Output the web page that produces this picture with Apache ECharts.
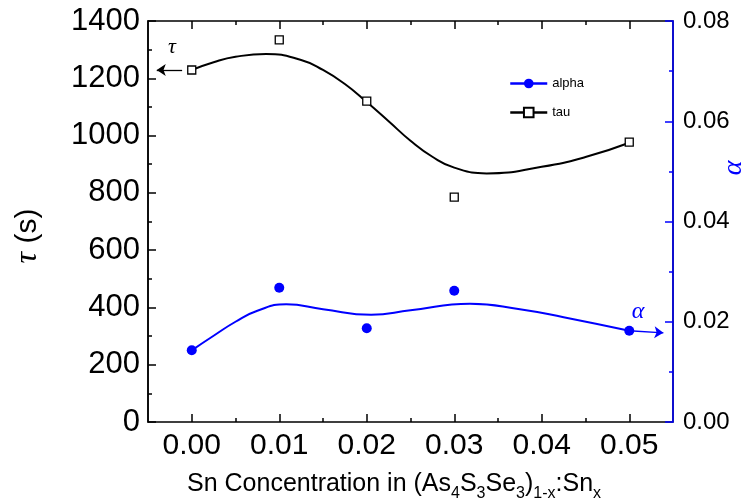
<!DOCTYPE html>
<html>
<head>
<meta charset="utf-8">
<script src="https://cdn.jsdelivr.net/npm/echarts@6/dist/echarts.min.js"></script>
<style>
  html, body { margin: 0; padding: 0; background: #fff; }
  #chart { width: 743px; height: 500px; }
</style>
</head>
<body>
<div id="chart"></div>
<script>
// measured points
const snX = [0.00, 0.01, 0.02, 0.03, 0.05]
const tauPts = [1229, 1334, 1120, 785, 977]
const alphaPts = [0.0143, 0.0268, 0.0187, 0.0262, 0.0182]

// fitted curves (extrema included)
const tauFitX = [0, 0.0025, 0.005, 0.0085, 0.0125, 0.015, 0.0175, 0.02, 0.0225, 0.025, 0.0275, 0.03, 0.0337, 0.04, 0.045, 0.05]
const tauFit = [1229, 1256, 1275, 1285, 1264, 1229, 1180, 1117, 1050, 982, 926, 888, 868, 891, 925, 975]
const alphaFitX = [0, 0.0025, 0.005, 0.0075, 0.0108, 0.015, 0.0205, 0.025, 0.0318, 0.0375, 0.0425, 0.05]
const alphaFit = [0.0143, 0.0172, 0.0200, 0.0222, 0.0235, 0.0225, 0.0214, 0.0223, 0.0236, 0.0225, 0.0209, 0.0182]

// arrow annotations [from, to]
const tauArrow = [[-0.0011, 1229], [-0.0040, 1229]]
const alphaArrow = [[0.05, 0.0182], [0.0539, 0.0178]]

const xTickLabels = ['0.00', '0.01', '0.02', '0.03', '0.04', '0.05']

const BLUE = '#0000ff'
const SANS = 'Liberation Sans, Arial, sans-serif'
const SERIF = 'Liberation Serif, Times New Roman, serif'

const zip = (xs, ys) => xs.map((x, i) => [x, ys[i]])

const chart = echarts.init(document.getElementById('chart'))

const tickCommon = {
  axisTick: { show: true, inside: true, length: 8, lineStyle: { color: '#000', width: 1.5 } },
  minorTick: { show: true, splitNumber: 2, length: 4, lineStyle: { color: '#000', width: 1.5 } },
  splitLine: { show: false },
  minorSplitLine: { show: false },
}

const option = {
  animation: false,
  backgroundColor: '#fff',
  grid: [
    { left: 148, right: 70, top: 21, bottom: 78, show: true, borderColor: '#000', borderWidth: 1.5 },
    // tick/label grid covering exactly 0.00 .. 0.05
    { left: 191.75, right: 113.75, top: 21, bottom: 78 },
  ],
  legend: {
    orient: 'vertical',
    left: 504,
    top: 72,
    itemWidth: 37,
    itemHeight: 12,
    itemGap: 16,
    textStyle: { fontFamily: SANS, fontSize: 13, color: '#000' },
    data: [
      { name: 'alpha', lineStyle: { width: 2.5, opacity: 1, color: BLUE } },
      { name: 'tau', lineStyle: { width: 2.5, opacity: 1, color: '#000' } },
    ],
  },
  xAxis: [
    {
      type: 'value', gridIndex: 0, min: -0.005, max: 0.055,
      axisLine: { show: false }, axisTick: { show: false }, axisLabel: { show: false },
      splitLine: { show: false },
    },
    {
      type: 'value', gridIndex: 1, position: 'bottom', min: 0, max: 0.05, interval: 0.01,
      axisLine: { show: false, onZero: false },
      ...tickCommon,
      axisLabel: {
        margin: 9,
        fontFamily: SANS, fontSize: 30, color: '#000',
        formatter: (v) => xTickLabels[Math.round(v * 100)] ?? '',
      },
    },
    {
      type: 'value', gridIndex: 1, position: 'top', min: 0, max: 0.05, interval: 0.01,
      axisLine: { show: false, onZero: false },
      ...tickCommon,
      axisLabel: { show: false },
    },
  ],
  yAxis: [
    {
      type: 'value', gridIndex: 0, position: 'left', min: 0, max: 1400, interval: 200,
      axisLine: { show: true, onZero: false, lineStyle: { color: '#000', width: 1.5 } },
      ...tickCommon,
      axisLabel: { margin: 8, fontFamily: SANS, fontSize: 31, color: '#000', formatter: (v) => String(v) },
    },
    {
      type: 'value', gridIndex: 0, position: 'right', min: 0, max: 0.08, interval: 0.02,
      axisLine: { show: true, onZero: false, lineStyle: { color: BLUE, width: 1.5 } },
      axisTick: { show: true, inside: true, length: 8, lineStyle: { color: BLUE, width: 1.5 } },
      minorTick: { show: true, splitNumber: 2, length: 4, lineStyle: { color: BLUE, width: 1.5 } },
      splitLine: { show: false },
      axisLabel: {
        margin: 10, fontFamily: SANS, fontSize: 24, color: '#000',
        formatter: (v) => v.toFixed(2),
      },
    },
    { type: 'value', gridIndex: 1, show: false, min: 0, max: 1, axisLine: { onZero: false } },
  ],
  series: [
    {
      name: 'tauFit', type: 'line', xAxisIndex: 0, yAxisIndex: 0,
      data: zip(tauFitX, tauFit), smooth: 0.5, symbol: 'none',
      lineStyle: { color: '#000', width: 2 }, z: 2,
    },
    {
      name: 'alphaFit', type: 'line', xAxisIndex: 0, yAxisIndex: 1,
      data: zip(alphaFitX, alphaFit), smooth: 0.5, symbol: 'none',
      lineStyle: { color: BLUE, width: 2 }, z: 2,
    },
    {
      name: 'alpha', type: 'line', xAxisIndex: 0, yAxisIndex: 1,
      data: zip(snX, alphaPts),
      symbol: 'circle', symbolSize: 10,
      itemStyle: { color: BLUE },
      lineStyle: { width: 0, opacity: 0, color: BLUE },
      z: 4,
      markLine: {
        silent: true, symbol: ['none', 'arrow'], symbolSize: 9,
        label: { show: false },
        lineStyle: { color: BLUE, width: 1.3, type: 'solid' },
        data: [[{ coord: alphaArrow[0] }, { coord: alphaArrow[1] }]],
      },
    },
    {
      name: 'tau', type: 'line', xAxisIndex: 0, yAxisIndex: 0,
      data: zip(snX, tauPts),
      symbol: 'rect', symbolSize: 8,
      itemStyle: { color: '#fff', borderColor: '#000', borderWidth: 1.3 },
      lineStyle: { width: 0, opacity: 0, color: '#000' },
      z: 4,
      markLine: {
        silent: true, symbol: ['none', 'arrow'], symbolSize: 9,
        label: { show: false },
        lineStyle: { color: '#000', width: 1.3, type: 'solid' },
        data: [[{ coord: tauArrow[0] }, { coord: tauArrow[1] }]],
      },
    },
  ],
  graphic: [
    // left axis title
    {
      type: 'text', x: 28, y: 236, rotation: Math.PI / 2,
      style: {
        text: '{t|τ} (s)',
        font: `30px ${SANS}`,
        fill: '#000', align: 'center', verticalAlign: 'middle',
        rich: { t: { fontFamily: SERIF, fontStyle: 'italic', fontSize: 32 } },
      },
    },
    // right axis title
    {
      type: 'text', x: 734, y: 168, rotation: Math.PI / 2,
      style: {
        text: 'α', font: `italic 28px ${SERIF}`, fill: BLUE,
        align: 'center', verticalAlign: 'middle',
      },
    },
    // in-plot labels
    {
      type: 'text', x: 172, y: 47,
      style: { text: 'τ', font: `italic 22px ${SERIF}`, fill: '#000', align: 'center', verticalAlign: 'middle' },
    },
    {
      type: 'text', x: 638, y: 312,
      style: { text: 'α', font: `italic 24px ${SERIF}`, fill: BLUE, align: 'center', verticalAlign: 'middle' },
    },
    // x axis title with subscripts
    {
      type: 'text', x: 187, y: 472,
      style: {
        text: '{n|Sn Concentration in (As}{s|4}{n|S}{s|3}{n|Se}{s|3}{n|)}{s|1-x}{n|:Sn}{s|x}',
        fill: '#000', align: 'left', verticalAlign: 'top',
        rich: {
          n: { fontFamily: SANS, fontSize: 25, lineHeight: 25, verticalAlign: 'top' },
          s: { fontFamily: SANS, fontSize: 16, lineHeight: 30, verticalAlign: 'bottom' },
        },
      },
    },
  ],
}

chart.setOption(option)
</script>
</body>
</html>
